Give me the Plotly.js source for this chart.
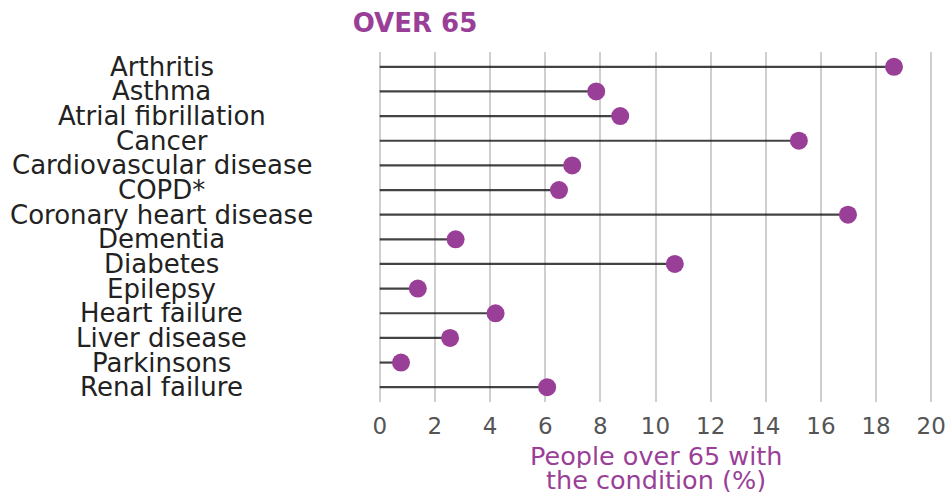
<!DOCTYPE html>
<html>
<head>
<meta charset="utf-8">
<script src="https://cdn.plot.ly/plotly-3.0.1.min.js"></script>
<style>html,body{margin:0;padding:0;background:#fff;}#chart{width:949px;height:492px;}</style>
</head>
<body>
<div id="chart"></div>
<script>
const categories = ["Arthritis","Asthma","Atrial fibrillation","Cancer","Cardiovascular disease","COPD*","Coronary heart disease","Dementia","Diabetes","Epilepsy","Heart failure","Liver disease","Parkinsons","Renal failure"];
const values = [18.65, 7.85, 8.72, 15.2, 6.98, 6.5, 16.98, 2.75, 10.7, 1.38, 4.2, 2.55, 0.77, 6.07];
const xTicks = [0,2,4,6,8,10,12,14,16,18,20];
const titleText = "OVER 65";
const xTitleLines = ["People over 65 with", "the condition (%)"];

const purple = "#9a3f98";
const font = "DejaVu Sans, sans-serif";

// stems built from data
const stemX = [], stemY = [];
categories.forEach((c, i) => { stemX.push(0, values[i], null); stemY.push(c, c, null); });

const stems = {type:"scatter", mode:"lines", x: stemX, y: stemY, line:{color:"rgba(20,20,20,0.8)", width:2.2}, hoverinfo:"skip", showlegend:false};
const dots = {type:"scatter", mode:"markers", x: values, y: categories, marker:{color:purple, size:18}, showlegend:false};

const W = 949, H = 492;
const l = 377.2, plotW = 556.5, t = 52, plotH = 350;
const r = W - l - plotW, b = H - t - plotH;

const annotations = categories.map(c => ({
  xref:"paper", yref:"y", x:(162 - l)/plotW, y:c, text:c, showarrow:false,
  xanchor:"center", yanchor:"middle", font:{family:font, size:26, color:"#222"}
}));
xTitleLines.forEach((txt, i) => annotations.push({
  xref:"paper", yref:"paper", x:(656 - l)/plotW, y:(402 - [456,480][i])/plotH, text:txt, showarrow:false,
  xanchor:"center", yanchor:"middle", height:24, font:{family:font, size:25.5, color:purple}
}));

const layout = {
  width: W, height: H,
  margin:{l:l, r:r, t:t, b:b, pad:0},
  paper_bgcolor:"#fff", plot_bgcolor:"#fff",
  title:{text:"<b>"+titleText+"</b>", x:415/W, xanchor:"center", xref:"container", y:1-23/H, yanchor:"middle", yref:"container", font:{family:font, size:26, color:purple}},
  xaxis:{range:[-0.1, 20.1], tickvals:xTicks, ticktext:xTicks.map(String), showgrid:true, gridcolor:"#cfcfcf", gridwidth:2, zeroline:false, showline:false, ticks:"", ticklabelstandoff:8, tickfont:{family:font, size:23, color:"#555"}, fixedrange:true},
  yaxis:{type:"category", categoryorder:"array", categoryarray:categories, range:[13.6, -0.6], showgrid:false, zeroline:false, showline:false, showticklabels:false, ticks:"", fixedrange:true},
  annotations: annotations,
  showlegend:false
};

Plotly.newPlot("chart", [stems, dots], layout, {displayModeBar:false, staticPlot:true});
</script>
</body>
</html>
